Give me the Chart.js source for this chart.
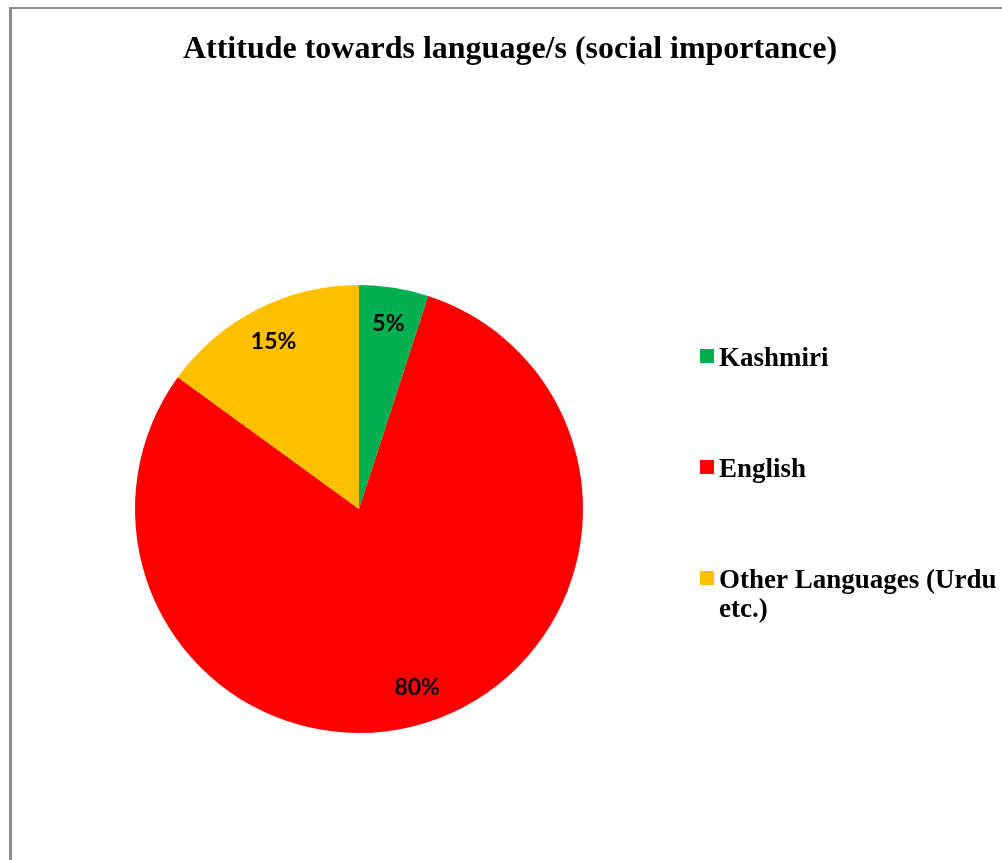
<!DOCTYPE html>
<html>
<head>
<meta charset="utf-8">
<script src="https://cdn.jsdelivr.net/npm/chart.js@4/dist/chart.umd.min.js"></script>
<style>
  html, body { margin: 0; padding: 0; background: #fff; }
  #wrap { position: relative; width: 1002px; height: 860px; }
</style>
</head>
<body>
<div id="wrap"><canvas id="c" width="1002" height="860"></canvas></div>
<script>
const chartTitle = 'Attitude towards language/s (social importance)';
const categories = ['Kashmiri', 'English', 'Other Languages (Urdu etc.)'];
const shares = [5, 80, 15];
const sliceColors = ['#00B050', '#FF0000', '#FFC000'];

// frame, title, slice labels and the side legend
const decor = {
  id: 'decor',
  beforeDraw(chart) {
    const ctx = chart.ctx;
    ctx.save();
    ctx.fillStyle = '#ffffff';
    ctx.fillRect(0, 0, chart.width, chart.height);
    ctx.fillStyle = '#8c8c8c';
    ctx.fillRect(9, 7, chart.width - 9, 2);
    ctx.fillRect(9, 7, 3, chart.height - 7);
    ctx.restore();
  },
  afterDraw(chart) {
    const ctx = chart.ctx;
    ctx.save();
    // title
    ctx.fillStyle = '#000';
    ctx.font = 'bold 32px "Liberation Serif", "Times New Roman", serif';
    ctx.textAlign = 'center';
    ctx.textBaseline = 'alphabetic';
    ctx.fillText(chartTitle, 510, 58);

    // percentage labels inside slices
    const meta = chart.getDatasetMeta(0);
    const total = shares.reduce((a, b) => a + b, 0);
    ctx.font = 'bold 23px Lato, "Open Sans", sans-serif';
    ctx.textBaseline = 'middle';
    meta.data.forEach((arc, i) => {
      const p = arc.getProps(['x', 'y', 'startAngle', 'endAngle', 'outerRadius'], true);
      const mid = (p.startAngle + p.endAngle) / 2;
      const r = p.outerRadius * 0.84;
      const pct = Math.round(shares[i] / total * 100) + '%';
      ctx.fillText(pct, p.x + Math.cos(mid) * r, p.y + Math.sin(mid) * r);
    });

    // legend
    const lx = 700, tx = 719, maxW = 1000 - tx;
    const rows = [366, 477, 588];
    ctx.textAlign = 'left';
    ctx.textBaseline = 'alphabetic';
    ctx.font = 'bold 27px "Liberation Serif", "Times New Roman", serif';
    categories.forEach((name, i) => {
      const y = rows[i];
      ctx.fillStyle = sliceColors[i];
      ctx.fillRect(lx, y - 17, 14, 14);
      ctx.fillStyle = '#000';
      const words = name.split(' ');
      let line = '', ly = y;
      words.forEach(w => {
        const test = line ? line + ' ' + w : w;
        if (ctx.measureText(test).width > maxW && line) {
          ctx.fillText(line, tx, ly);
          line = w; ly += 29;
        } else {
          line = test;
        }
      });
      if (line) ctx.fillText(line, tx, ly);
    });
    ctx.restore();
  }
};

new Chart(document.getElementById('c'), {
  type: 'pie',
  data: {
    labels: categories,
    datasets: [{
      data: shares,
      backgroundColor: sliceColors,
      borderWidth: 0
    }]
  },
  options: {
    responsive: false,
    animation: false,
    layout: { padding: { left: 135, top: 285, right: 419, bottom: 127 } },
    plugins: {
      legend: { display: false },
      title: { display: false },
      tooltip: { enabled: false }
    }
  },
  plugins: [decor]
});
</script>
</body>
</html>
